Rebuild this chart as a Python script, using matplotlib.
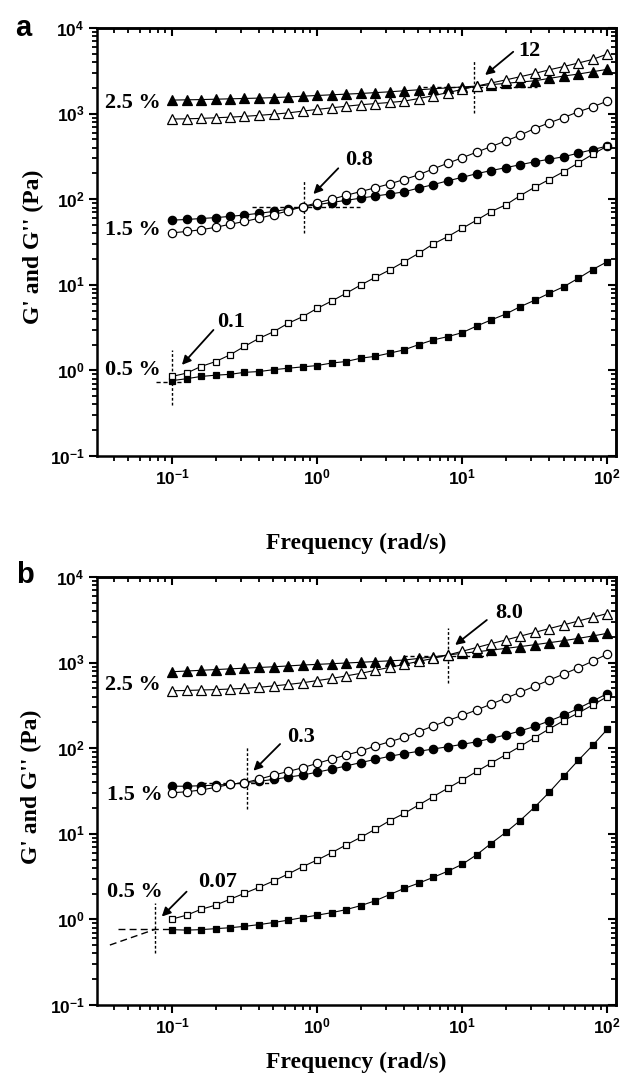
import numpy as np
import matplotlib
matplotlib.use('Agg')
import matplotlib.pyplot as plt
from matplotlib.ticker import LogLocator, NullFormatter, FuncFormatter

plt.rcParams['mathtext.fontset'] = 'custom'
plt.rcParams['mathtext.bf'] = 'Liberation Sans:bold'
plt.rcParams['mathtext.rm'] = 'Liberation Sans:bold'

# angular frequency (rad/s), 10 points per decade
freq = [0.1, 0.126, 0.158, 0.2, 0.251, 0.316, 0.398, 0.501, 0.631, 0.794,
        1.0, 1.26, 1.58, 2.0, 2.51, 3.16, 3.98, 5.01, 6.31, 7.94,
        10.0, 12.6, 15.8, 20.0, 25.1, 31.6, 39.8, 50.1, 63.1, 79.4, 100.0]

# ---- panel a ----
a_gp_25 = [1440, 1450, 1460, 1475, 1490, 1505, 1520, 1540, 1565, 1600, 1630, 1660, 1690, 1720, 1760, 1800,
           1850, 1900, 1950, 2000, 2050, 2100, 2180, 2260, 2340, 2420, 2580, 2750, 2900, 3090, 3290]
a_gpp_25 = [865, 870, 880, 895, 910, 930, 955, 985, 1020, 1070, 1120, 1170, 1220, 1270, 1310, 1350,
            1400, 1500, 1620, 1760, 1920, 2100, 2280, 2480, 2700, 2950, 3250, 3550, 3900, 4300, 4970]
a_gp_15 = [57, 58, 59.5, 61, 63, 65.5, 68.5, 72, 76.5, 81.5, 86.5, 91.6, 97, 103, 109, 115,
           122, 135, 148, 164, 180, 199, 216, 234, 253, 274, 293, 314, 345, 380, 418]
a_gpp_15 = [40.5, 42, 44, 47, 51, 55, 60, 66, 73, 82, 90.6, 100, 111, 123, 136, 151,
            170, 193, 226, 263, 305, 355, 412, 479, 560, 670, 780, 900, 1050, 1200, 1400]
a_gp_05 = [0.76, 0.80, 0.85, 0.88, 0.90, 0.95, 0.97, 1.02, 1.06, 1.10, 1.14, 1.22, 1.27, 1.39, 1.46, 1.59,
           1.74, 2.0, 2.27, 2.48, 2.76, 3.3, 3.88, 4.56, 5.55, 6.6, 7.95, 9.5, 11.9, 15.1, 18.6]
a_gpp_05 = [0.85, 0.93, 1.11, 1.27, 1.52, 1.91, 2.37, 2.83, 3.55, 4.24, 5.3, 6.46, 7.94, 9.95, 12.2, 14.9,
            18.6, 23.3, 30, 36.5, 45.7, 57, 71.6, 86, 110, 138, 170, 210, 265, 335, 418]

# ---- panel b ----
b_gp_25 = [783, 798, 814, 830, 846, 862, 878, 895, 915, 938, 955, 972, 990, 1010, 1030, 1050,
           1072, 1120, 1170, 1227, 1285, 1340, 1400, 1468, 1540, 1620, 1710, 1805, 1920, 2050, 2200]
b_gpp_25 = [470, 473, 479, 484, 492, 501, 515, 535, 556, 582, 617, 653, 700, 750, 813, 881,
            955, 1035, 1122, 1227, 1358, 1503, 1664, 1842, 2039, 2257, 2498, 2765, 3061, 3388, 3750]
b_gp_15 = [36, 36, 36.5, 37, 38, 39.6, 41, 43.3, 46, 48.6, 52.5, 57, 62, 68, 74, 80.5,
           86.5, 92, 98, 104, 111, 119, 130, 143, 159, 180, 208, 243, 292, 355, 435]
b_gpp_15 = [30.2, 31, 32.5, 34.9, 37.8, 39.6, 43.5, 48.5, 53.5, 59.2, 66.5, 74.7, 83.2, 92.6, 106, 119,
            134, 156, 182, 210, 242, 280, 327, 385, 450, 530, 625, 735, 870, 1040, 1260]
b_gp_05 = [0.76, 0.75, 0.76, 0.78, 0.80, 0.83, 0.87, 0.92, 0.98, 1.05, 1.12, 1.2, 1.3, 1.45, 1.65, 1.95,
           2.3, 2.65, 3.1, 3.65, 4.4, 5.7, 7.7, 10.4, 14.3, 20.5, 30.5, 47, 72, 108, 166]
b_gpp_05 = [1.01, 1.12, 1.31, 1.47, 1.72, 2.02, 2.37, 2.81, 3.39, 4.13, 4.94, 6.02, 7.4, 9.1, 11.3, 14.2,
            17.3, 21.7, 27.2, 34, 42.5, 53.5, 67, 84, 105, 133, 168, 210, 258, 320, 400]

conc_labels = ['2.5 %', '1.5 %', '0.5 %']
a_label_pos = [(0.084, 1330), (0.084, 43.6), (0.084, 1.0)]
b_label_pos = [(0.084, 547), (0.086, 28.4), (0.086, 2.11)]

# crossover points: text, x, y, vertical span, horizontal span, text pos, arrow tail, arrow head, dash
short = (0, (3, 2))
long_ = (0, (5, 3))
a_cross = [
    ('12', 12.0, 2060, (1010, 4230), (5.4, 32.9), (24.3, 5380), (22.5, 5280), (14.4, 2825), short),
    ('0.8', 0.81, 81.6, (40, 167), (0.355, 1.98), (1.56, 287), (1.40, 230), (0.943, 115), short),
    ('0.1', 0.1, 0.74, (0.394, 1.73), (0.078, 0.115), (0.204, 3.7), (0.193, 2.97), (0.117, 1.16), short),
]
b_cross = [
    ('8.0', 8.05, 1195, (573, 2510), (3.94, 14.8), (16.9, 3770), (14.8, 3150), (8.95, 1608), short),
    ('0.3', 0.327, 39.5, (19.3, 104), (0.16, 0.5), (0.618, 136), (0.556, 112), (0.364, 54.6), short),
    ('0.07', 0.0763, 0.766, (0.40, 1.54), (0.0426, 0.1), (0.151, 2.76), (0.126, 2.11), (0.085, 1.08), long_),
]
# extrapolated G'' line for 0.5 % in panel b
b_extrap_x = [0.0373, 0.0763]
b_extrap_y = [0.502, 0.766]

serif = dict(family='Liberation Serif', weight='bold')


def decade_fmt(v, pos):
    return r'$\mathbf{10^{%d}}$' % int(round(np.log10(v)))


def draw_panel(ax, series, label_pos, cross):
    styles = [('^', 'k', 6.5), ('^', 'w', 6.5), ('o', 'k', 6), ('o', 'w', 6), ('s', 'k', 5), ('s', 'w', 5)]
    for vals, (m, fc, ms) in zip(series, styles):
        ax.plot(freq, vals, '-', color='black', lw=0.8, marker=m, ms=ms,
                mfc=fc, mec='black', mew=0.9, zorder=3)

    for txt, (x, y) in zip(conc_labels, label_pos):
        ax.text(x, y, txt, ha='right', va='center', fontsize=16, **serif)

    for txt, x, y, vspan, hspan, tpos, tail, head, dash in cross:
        ax.plot([x, x], vspan, color='black', lw=1.0, ls=(0, (2, 1.5)), zorder=2)
        ax.plot(hspan, [y, y], color='black', lw=1.0, ls=dash, zorder=2)
        ax.annotate('', xy=head, xytext=tail,
                    arrowprops=dict(arrowstyle='-|>', color='black', lw=1.3,
                                    mutation_scale=13, shrinkA=0, shrinkB=0))
        ax.text(tpos[0], tpos[1], txt, ha='left', va='center', fontsize=16, **serif)

    ax.set_xscale('log')
    ax.set_yscale('log')
    ax.set_xlim(0.0304, 115)
    ax.set_ylim(0.1, 1e4)

    for axis in (ax.xaxis, ax.yaxis):
        axis.set_major_locator(LogLocator(base=10, numticks=12))
        axis.set_minor_locator(LogLocator(base=10, subs=np.arange(2, 10), numticks=12))
        axis.set_major_formatter(FuncFormatter(decade_fmt))
        axis.set_minor_formatter(NullFormatter())
    ax.tick_params(which='major', direction='out', length=6, width=1.5, labelsize=12.5, pad=3)
    ax.tick_params(which='minor', direction='out', length=3.5, width=1.3)
    for s in ax.spines.values():
        s.set_linewidth(1.8)

    # mirrored ticks pointing inward on top and right
    secx = ax.secondary_xaxis('top')
    secy = ax.secondary_yaxis('right')
    for sec, axis in ((secx, secx.xaxis), (secy, secy.yaxis)):
        axis.set_major_locator(LogLocator(base=10, numticks=12))
        axis.set_minor_locator(LogLocator(base=10, subs=np.arange(2, 10), numticks=12))
        axis.set_major_formatter(NullFormatter())
        axis.set_minor_formatter(NullFormatter())
        sec.tick_params(which='major', direction='in', length=6, width=1.5)
        sec.tick_params(which='minor', direction='in', length=3.5, width=1.3)
        for s in sec.spines.values():
            s.set_linewidth(1.8)

    ax.set_xlabel('Frequency (rad/s)', fontsize=17, **serif)
    ax.set_ylabel("G' and G'' (Pa)", fontsize=17, **serif)


fig = plt.figure(figsize=(6.25, 10.75), dpi=100)
ax_a = fig.add_axes([0.1552, 0.5758, 0.8304, 0.3981])
ax_b = fig.add_axes([0.1552, 0.0651, 0.8304, 0.3981])

draw_panel(ax_a, [a_gp_25, a_gpp_25, a_gp_15, a_gpp_15, a_gp_05, a_gpp_05], a_label_pos, a_cross)
draw_panel(ax_b, [b_gp_25, b_gpp_25, b_gp_15, b_gpp_15, b_gp_05, b_gpp_05], b_label_pos, b_cross)
ax_b.plot(b_extrap_x, b_extrap_y, color='black', lw=1.0, ls=long_, zorder=2)

ax_a.xaxis.set_label_coords(0.5, -0.18)
ax_b.xaxis.set_label_coords(0.5, -0.11)
ax_a.yaxis.set_label_coords(-0.102, 0.49)
ax_b.yaxis.set_label_coords(-0.106, 0.51)

fig.text(23 / 625, 1 - 28 / 1075, 'a', fontsize=21, family='Liberation Sans', weight='bold',
         ha='center', va='center')
fig.text(25 / 625, 1 - 575 / 1075, 'b', fontsize=21, family='Liberation Sans', weight='bold',
         ha='center', va='center')

fig.savefig('out.png', dpi=100)
